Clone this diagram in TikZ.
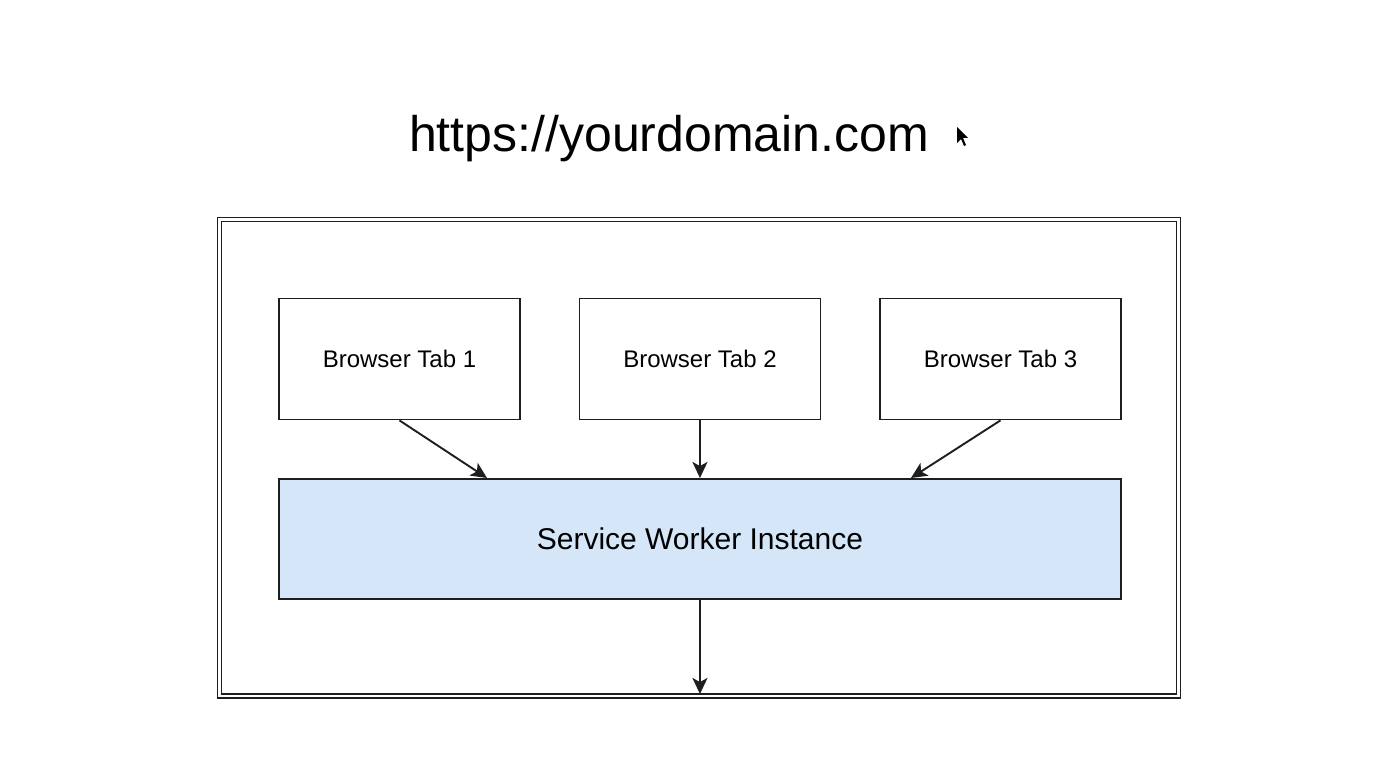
\documentclass[tikz,border=0pt]{standalone}
\usepackage{fontspec}
\setmainfont{Liberation Sans}
\usetikzlibrary{arrows.meta}
\definecolor{swblue}{HTML}{D5E6F9}
\definecolor{linegray}{HTML}{1E1E1E}
\tikzset{
  tabbox/.style={draw=linegray, line width=1.9pt, minimum width=241pt, minimum height=121pt, inner sep=0pt, font=\fontsize{24}{28}\selectfont, anchor=north west},
  conn/.style={draw=linegray, line width=1.9pt, -{Stealth[length=16pt, width=15pt, inset=4pt]}}
}
\begin{document}
\begin{tikzpicture}[x=1pt, y=-1pt]
\useasboundingbox (0,0) rectangle (1378,773);
\fill[white] (0,0) rectangle (1378,773);
% title
\node[font=\fontsize{50}{60}\selectfont, anchor=center] (title) at (669,139) {https://yourdomain.com};
% cursor
\fill[black] (957,127) -- (957,143) -- (961,139) -- (964,146) -- (966,145) -- (963,138) -- (968,138) -- cycle;
% outer double frame
\draw[linegray, line width=1.7pt] (217.5,217.5) rectangle (1180.5,698);
\draw[linegray, line width=1.7pt] (221.5,221.5) rectangle (1176.5,694);
\coordinate (framebottom) at (699,694);
% tabs
\node[tabbox] (tab1) at (278,297.5) {Browser Tab 1};
\node[tabbox] (tab2) at (578.5,297.5) {Browser Tab 2};
\node[tabbox] (tab3) at (879,297.5) {Browser Tab 3};
% service worker
\node[draw=linegray, fill=swblue, line width=1.9pt, minimum width=842pt, minimum height=120pt, inner sep=0pt, anchor=north west, font=\fontsize{30}{36}\selectfont] (sw) at (278,478) {Service Worker Instance};
% connectors
\coordinate (sw1) at (487,478);
\coordinate (sw3) at (911,478);
\draw[conn] (tab1.south) -- (sw1);
\draw[conn] (tab2.south) -- (tab2.south |- sw.north);
\draw[conn] (tab3.south) -- (sw3);
\draw[conn] (sw.south) -- (sw.south |- framebottom);
\end{tikzpicture}
\end{document}
